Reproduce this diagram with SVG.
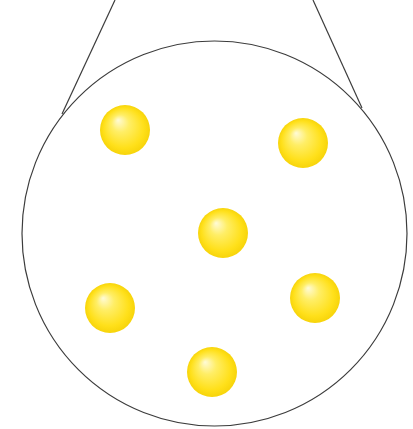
<svg xmlns="http://www.w3.org/2000/svg" width="413" height="429" viewBox="0 0 413 429">
<defs>
<radialGradient id="ball" cx="0.5" cy="0.5" r="0.5" fx="0.36" fy="0.3">
<stop offset="0" stop-color="#FFFBD8"/>
<stop offset="0.35" stop-color="#FFEE66"/>
<stop offset="0.8" stop-color="#FFE01A"/>
<stop offset="1" stop-color="#F7D40A"/>
</radialGradient>
</defs>
<style>
.outline{fill:none;stroke:#3c3c3c;stroke-width:1.2}
.ball{fill:url(#ball)}
</style>
<rect width="413" height="429" fill="#ffffff"/>
<g id="connectors">
<line class="outline" x1="115" y1="0" x2="62" y2="114"/>
<line class="outline" x1="313" y1="0" x2="362" y2="108"/>
</g>
<g id="circle"><circle class="outline" cx="214.5" cy="233.5" r="192.5"/></g>
<g id="ball1"><circle class="ball" cx="125" cy="130" r="25"/></g>
<g id="ball2"><circle class="ball" cx="303" cy="143" r="25"/></g>
<g id="ball3"><circle class="ball" cx="223" cy="233" r="25"/></g>
<g id="ball4"><circle class="ball" cx="110" cy="308" r="25"/></g>
<g id="ball5"><circle class="ball" cx="315" cy="298" r="25"/></g>
<g id="ball6"><circle class="ball" cx="212" cy="372" r="25"/></g>
</svg>
